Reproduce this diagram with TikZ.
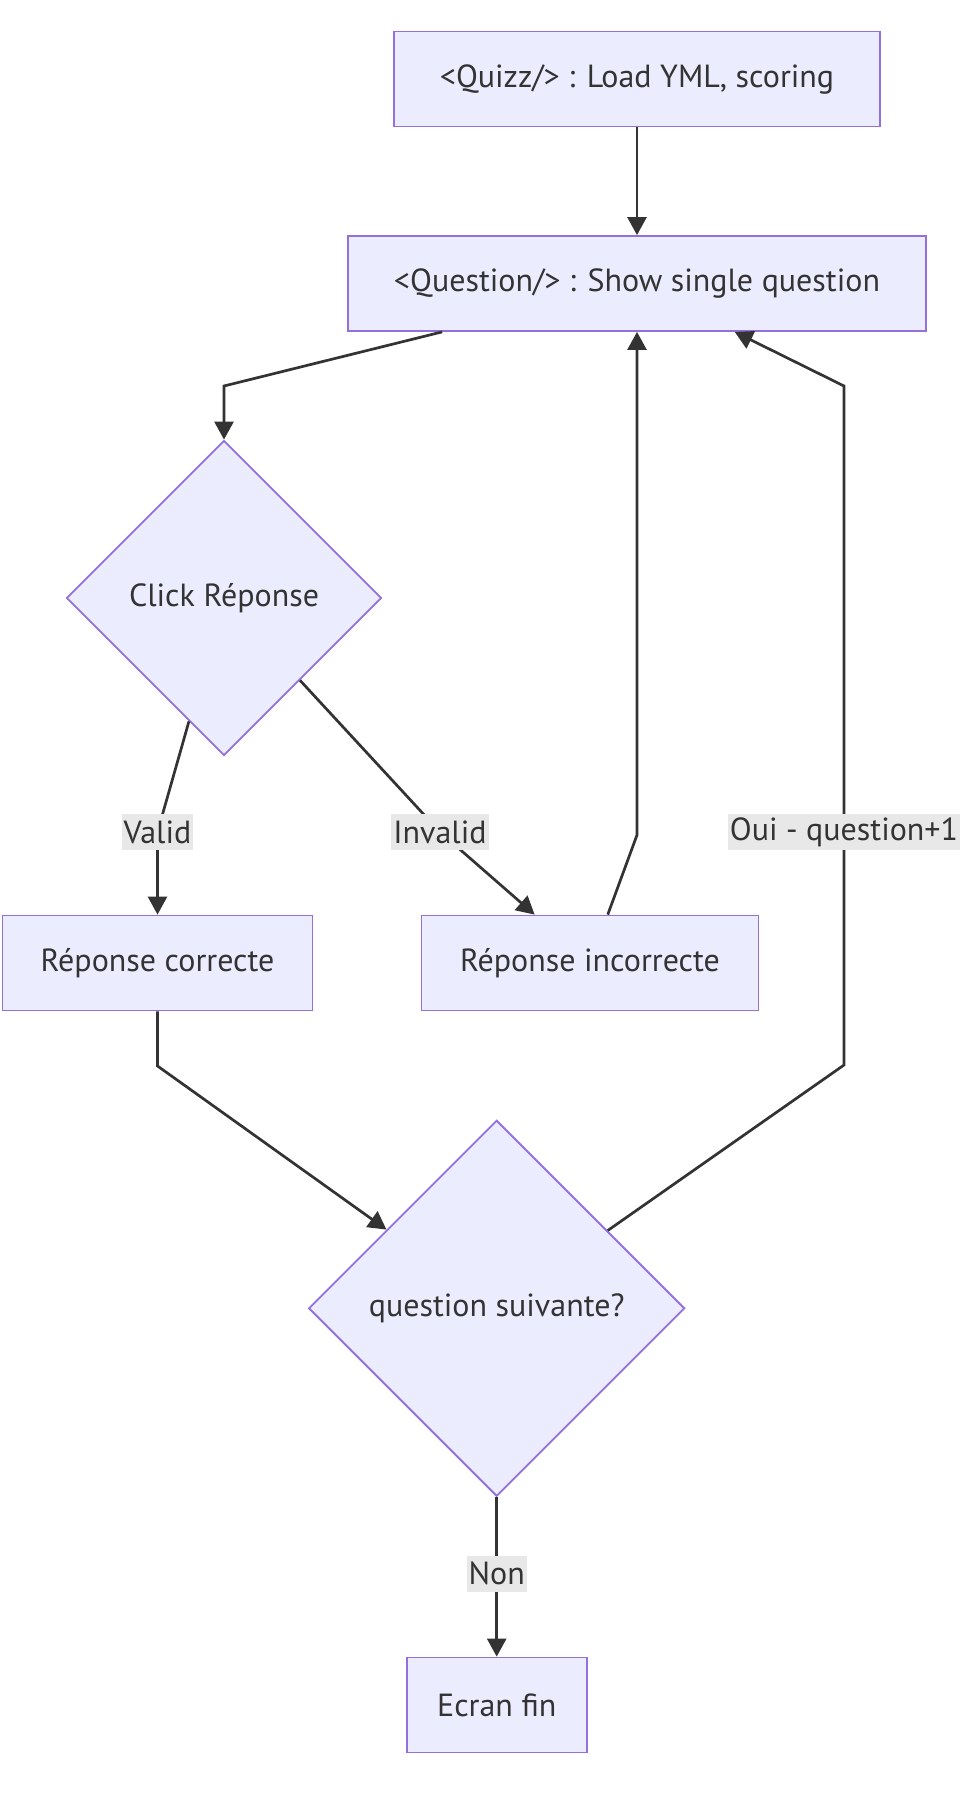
\documentclass[tikz,border=0pt]{standalone}
\usepackage{fontspec}
\setmainfont{PT Sans}
\usetikzlibrary{shapes.geometric,arrows.meta}
\definecolor{nfill}{HTML}{ECECFF}
\definecolor{nstroke}{HTML}{9370DB}
\definecolor{ink}{HTML}{333333}
\definecolor{lbl}{HTML}{E8E8E8}
\begin{document}
\begin{tikzpicture}[x=1pt,y=-1pt,
  every node/.style={font=\fontsize{32}{38}\selectfont, text=ink},
  box/.style={draw=nstroke, fill=nfill, line width=1.8pt, rectangle, minimum height=95pt, inner sep=0pt},
  dia/.style={draw=nstroke, fill=nfill, line width=1.8pt, diamond, inner sep=0pt},
  edge/.style={draw=ink, line width=2.7pt, -{Triangle[length=18pt,width=19pt]}},
  elabel/.style={fill=lbl, inner xsep=2pt, inner ysep=0pt, minimum height=36pt}]
\useasboundingbox (0,0) rectangle (978,1796);
\fill[white] (0,0) rectangle (978,1796);

\node[box, minimum width=486pt] (quizz) at (637,79) {<Quizz/> : Load YML, scoring};
\node[box, minimum width=578pt] (question) at (637,283.5) {<Question/> : Show single question};
\node[dia, minimum width=315pt, minimum height=315pt] (click) at (224,598) {Click Réponse};
\node[box, minimum width=310pt] (correct) at (157.5,963) {Réponse correcte};
\node[box, minimum width=337pt] (incorrect) at (590,963) {Réponse incorrecte};
\node[dia, minimum width=376pt, minimum height=376pt] (next) at (496.7,1308.3) {question suivante?};
\node[box, minimum width=180pt] (fin) at (496.7,1705) {Ecran fin};

\coordinate (b1) at (224,386);
\coordinate (vl) at (157.5,832);
\coordinate (il) at (440,832);
\coordinate (b2) at (637,835);
\coordinate (b3) at (157.5,1066);
\coordinate (b4) at (844,1065);
\coordinate (b5) at (844,386);
\coordinate (ol) at (844,832);
\coordinate (nl) at (496.7,1573.5);

\draw[edge] (quizz) -- (question);
\draw[edge] (question) -- (b1) -- (click);
\draw[edge] (click) -- (vl) -- (correct);
\draw[edge] (click) -- (il) -- (incorrect);
\draw[edge] (incorrect) -- (b2) -- (question);
\draw[edge] (correct) -- (b3) -- (next);
\draw[edge] (next) -- (b4) -- (b5) -- (question);
\draw[edge] (next) -- (fin);

\node[elabel] (lvalid) at (vl) {Valid};
\node[elabel] (linvalid) at (il) {Invalid};
\node[elabel] (loui) at (ol) {Oui - question+1};
\node[elabel] (lnon) at (nl) {Non};
\end{tikzpicture}
\end{document}
